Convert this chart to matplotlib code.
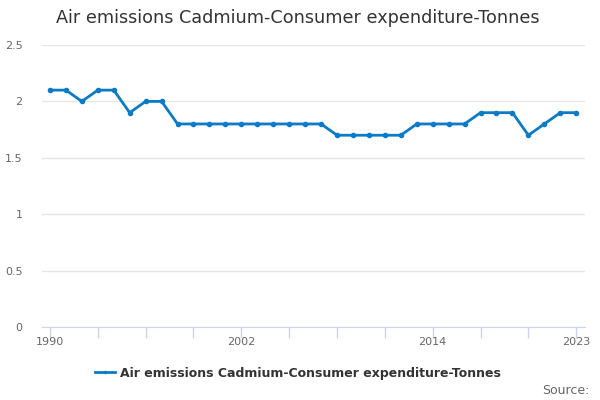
import matplotlib
matplotlib.use("Agg")
import matplotlib.pyplot as plt
from matplotlib.ticker import FixedLocator, NullFormatter

# Series values
years = list(range(1990, 2024))
tonnes = [2.1, 2.1, 2.0, 2.1, 2.1, 1.9, 2.0, 2.0,
          1.8, 1.8, 1.8, 1.8, 1.8, 1.8, 1.8, 1.8, 1.8, 1.8,
          1.7, 1.7, 1.7, 1.7, 1.7,
          1.8, 1.8, 1.8, 1.8,
          1.9, 1.9, 1.9,
          1.7, 1.8, 1.9, 1.9]
label_years = [1990, 2002, 2014, 2023]
tick_years = list(range(1990, 2024, 3))
yticks = [0, 0.5, 1, 1.5, 2, 2.5]
title = "Air emissions Cadmium-Consumer expenditure-Tonnes"
series_name = "Air emissions Cadmium-Consumer expenditure-Tonnes"

line_color = "#0a7bc4"

fig = plt.figure(figsize=(6, 4), dpi=100)
ax = fig.add_axes([42 / 600, 73 / 400, 543 / 600, 282 / 400])

ax.plot(years, tonnes, color=line_color, lw=2, marker="o", ms=3,
        label=series_name)

ax.set_xlim(1989.5, 2023.55)
ax.set_ylim(0, 2.5)

ax.set_yticks(yticks)
ax.set_yticklabels(["0", "0.5", "1", "1.5", "2", "2.5"])
ax.grid(axis="y", color="#e6e6e6", lw=1)
ax.set_axisbelow(True)

ax.xaxis.set_major_locator(FixedLocator(label_years))
ax.xaxis.set_minor_locator(FixedLocator(tick_years))
ax.xaxis.set_minor_formatter(NullFormatter())
ax.tick_params(axis="x", which="major", length=8, color="#ccd6eb", width=1,
               pad=-1, labelsize=8, labelcolor="#666666")
ax.tick_params(axis="x", which="minor", length=8, color="#ccd6eb", width=1)
ax.tick_params(axis="y", length=0, pad=14, labelsize=8, labelcolor="#666666")

for side in ["top", "right", "left"]:
    ax.spines[side].set_visible(False)
ax.spines["bottom"].set_color("#ccd6eb")

fig.text(0.497, 0.955, title, ha="center", va="center",
         fontsize=12.7, color="#333333")

leg = fig.legend(loc="center", bbox_to_anchor=(0.497, 0.067), frameon=False,
                 prop={"size": 9, "weight": "bold"}, handlelength=1.6,
                 handletextpad=0.4, markerscale=0.5)
for t in leg.get_texts():
    t.set_color("#333333")

fig.text(0.982, 0.025, "Source:", ha="right", va="center",
         fontsize=9, color="#666666")

fig.savefig("out.png", dpi=100)
